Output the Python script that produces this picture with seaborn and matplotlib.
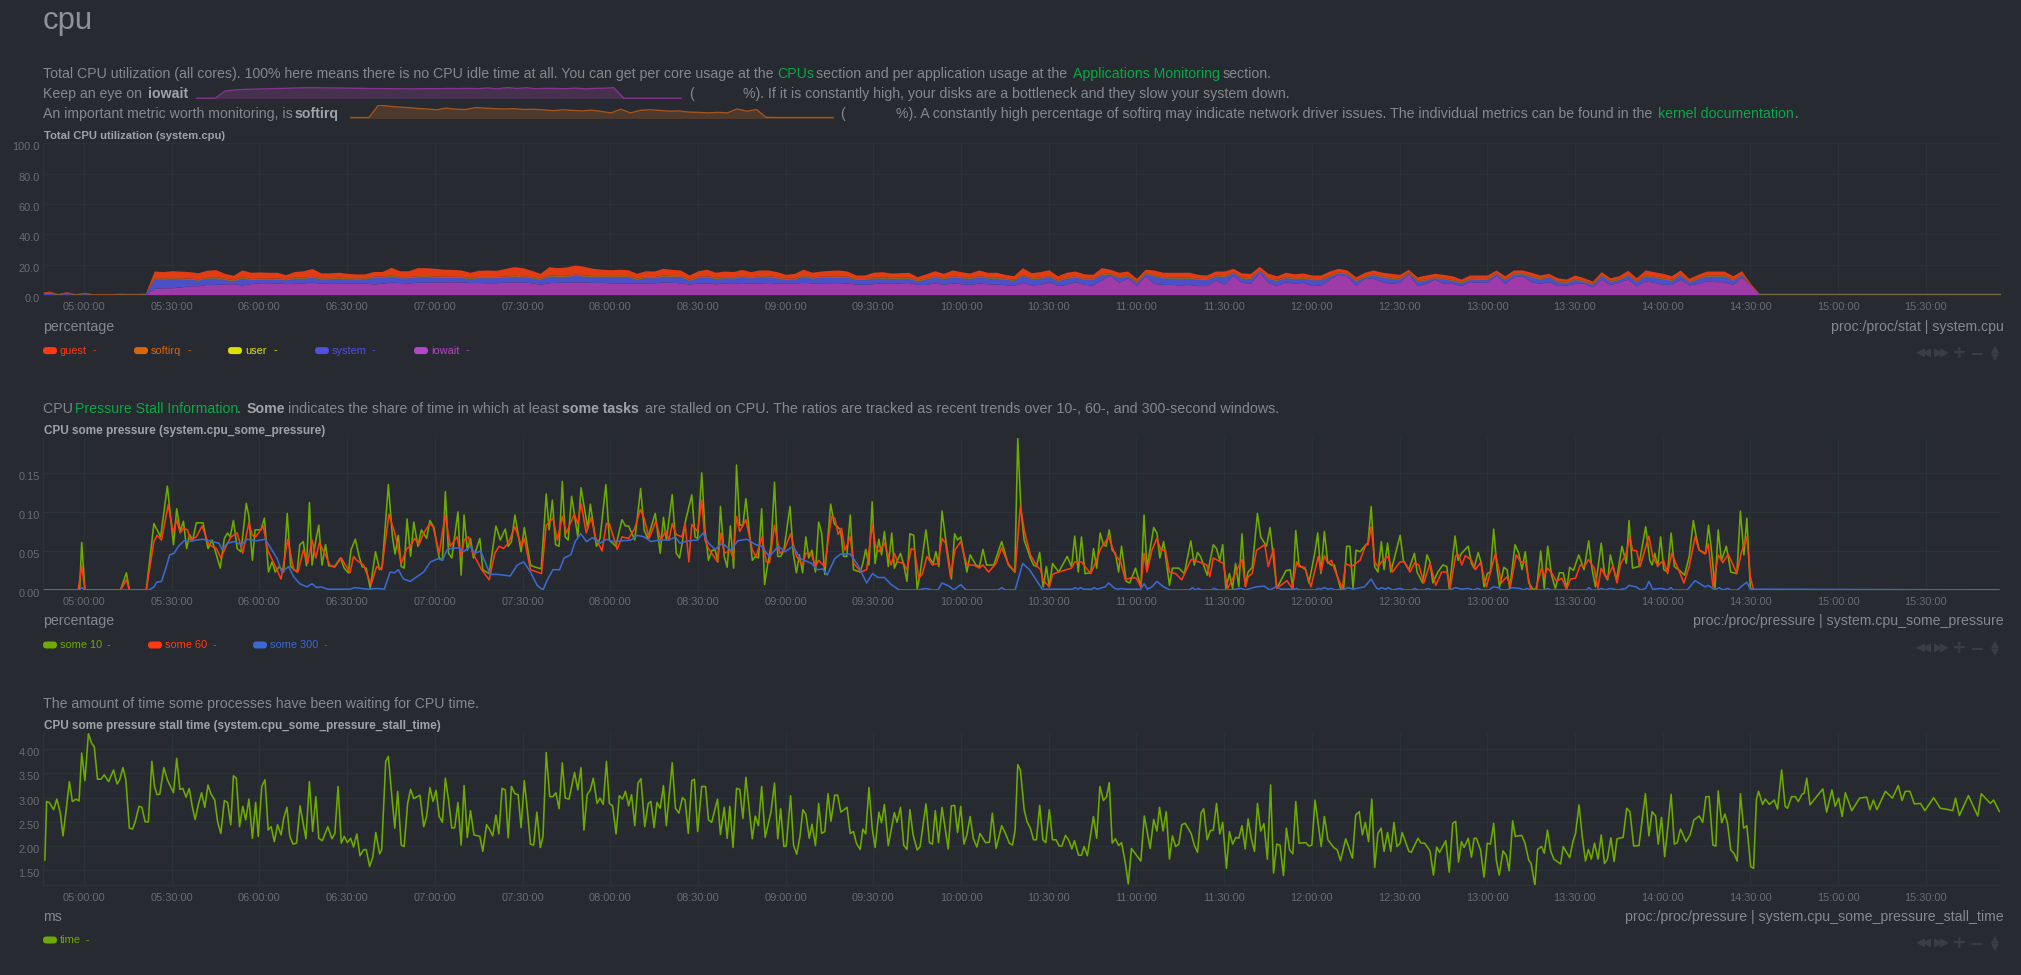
import numpy as np
import pandas as pd
import seaborn as sns
import matplotlib
matplotlib.use("Agg")
import matplotlib.pyplot as plt
from matplotlib.patches import FancyBboxPatch
from matplotlib.transforms import IdentityTransform, ScaledTranslation

# ---------- data: minutes after 05:00 ----------
tick_minutes = list(range(0, 631, 30))
tick_labels = ["05:00:00","05:30:00","06:00:00","06:30:00","07:00:00","07:30:00","08:00:00","08:30:00",
               "09:00:00","09:30:00","10:00:00","10:30:00","11:00:00","11:30:00","12:00:00","12:30:00",
               "13:00:00","13:30:00","14:00:00","14:30:00","15:00:00","15:30:00"]

cpu_minutes = list(range(-15, 658, 3))
cpu_total = [1.6,2.6,1.0,2.2,0.9,1.8,0.9,0.9,0.9,1.2,1.1,1.1,1.2,
 15.8,15.4,16.0,15.8,15.4,14.7,16.3,16.8,14.3,13.0,
 16.5,15.0,15.2,15.0,15.0,13.4,15.5,16.0,17.5,14.6,
 14.6,15.0,14.3,13.9,13.9,15.5,15.5,18.2,16.0,16.0,
 18.0,18.0,17.6,17.0,16.9,16.5,15.0,16.3,16.5,16.3,
 17.5,18.7,18.0,
 16.3,14.3,18.7,18.0,18.5,19.8,18.9,17.6,17.0,16.7,
 17.0,16.7,14.3,16.0,15.8,17.6,16.9,16.5,13.2,16.0,
 17.0,15.0,15.8,15.4,16.9,15.4,16.5,16.5,15.4,13.6,
 14.3,17.0,15.0,15.8,16.3,16.5,15.8,13.2,13.2,15.0,
 15.4,14.5,14.7,15.0,12.1,14.0,16.0,14.3,16.5,15.4,
 14.5,16.5,15.0,15.0,13.6,12.7,
 18.0,14.7,15.4,16.7,12.7,15.0,15.8,14.0,13.6,18.0,
 17.0,15.0,15.8,11.0,17.0,16.5,15.0,15.0,15.0,15.0,
 13.6,13.2,15.8,15.8,17.6,14.5,14.3,18.9,14.3,12.7,
 15.0,14.0,14.5,13.2,13.2,15.8,17.6,16.5,12.0,15.0,
 16.5,15.0,14.3,13.6,17.0,12.0,13.2,14.3,13.6,12.7,
 10.5,13.2,13.2,13.2,16.5,12.7,
 16.5,16.5,15,13.2,14.3,11.4,10.5,13.2,11.4,9.2,15.4,11.4,12.7,16.3,11.4,16.5,15.4,14.3,12.7,16.5,
 11,13.6,15.8,15.8,15.8,12.7,16,7.7] + [1.1]*29
cpu_iowait = [0.3,0.5,0.3,0.8,0.3,0.6,0.3,0.3,0.3,0.3,0.3,0.3,0.3,
 4.4,4.8,4.8,5.3,6.1,6.1,7.0,7.0,7.4,7.4,
 6.6,7.5,8.1,8.1,7.9,7.5,7.7,8.0,8.4,7.8,
 8.1,8.1,7.9,7.9,8.0,7.2,7.8,8.4,8.2,7.9,
 8.4,8.4,8.6,8.6,8.7,8.6,8.2,8.2,8.1,8.1,
 8.4,8.6,8.6,
 8.1,7.0,8.1,8.4,8.4,8.6,8.6,8.2,8.4,8.0,
 8.0,8.0,7.7,8.0,8.0,8.6,8.4,8.0,7.2,7.9,
 8.0,7.4,7.9,7.5,8.2,7.7,7.9,8.2,7.9,7.7,
 7.7,8.4,7.9,8.1,8.1,8.2,7.9,7.2,7.0,7.5,
 7.9,7.6,8.0,8.2,7.0,7.0,8.0,7.0,8.0,7.4,
 7.0,7.8,7.4,7.2,6.8,6.3,
 8.4,6.6,7,8.8,6.2,7,8.8,7,6.6,9.9,
 13.2,8.4,11.4,6.2,12.7,7.7,7,7,6.6,7,
 6.2,6.2,9.9,7,13.2,8.4,7.7,15,8.4,6.2,
 8.8,7.7,8.4,6.2,6.6,10.5,13.6,12.7,6.6,11,
 11,8.8,7.7,8.4,14.3,6.2,7.7,10.5,7.7,7.7,
 6.2,8.8,8.4,8.4,13.2,7.7,
 12.1,12.7,8.8,7.7,8.8,6.2,6.6,7.7,7.7,5.5,10.5,7,8.4,10.5,6.2,9.2,8.4,7,7,10.5,
 6.6,7.7,9.2,8.8,8.8,7,12.1,6.2] + [0.1]*29
cpu_guest = [.3,.8,.3,.4,.2,.4,.2,.2,.2,.2,.2,.2,.2,
 4.4,4.1,4.5,4.5,4.3,4.1,4.5,4.8,3.3,2.9,
 4.5,4.1,4.1,3.9,3.8,2.7,3.7,4.3,5.1,3.3,
 3.2,3.3,2.8,2.6,2.5,3.1,3.1,4.9,3.9,3.9,
 5.3,5.1,5.1,4.7,4.6,4.3,3.4,4.1,4.4,4.1,
 5.1,5.7,5.3,
 4.2,3.2,5.5,5.1,5.5,6,5.7,4.8,4.1,3.9,
 4.1,3.9,3.2,3.8,3.7,4.5,4.1,3.7,2.8,3.7,
 4.3,3.4,3.7,3.4,4.1,3.4,3.7,3.9,3.4,2.7,
 3,3.9,3.1,3.4,3.7,3.9,3.4,2.3,2.3,3.2,
 3.5,2.9,3,3.2,2.1,2.7,3.5,2.8,3.9,3.3,
 2.9,3.7,3.1,3.1,2.6,2.3,
 4.4,3.2,3.6,3.8,2.6,3.2,3.3,2.8,2.6,3.8,
 2.6,3,2.6,2,2.2,3.3,3,3,3.2,3.2,
 2.6,2.4,2.6,3,2.2,2.8,2.8,2.2,2.8,2.4,
 2.8,2.7,2.8,2.4,2.4,2.8,2.4,2,2,2.4,
 2.6,2.6,2.6,2.4,1.5,2.2,2.6,2.2,2.4,2.4,
 1.7,2.2,2.3,2.3,1.6,2.2,
 2,1.8,2.4,2,1.6,2,1.6,2.2,1.9,1.4,1.8,1.6,1.9,2.6,1.9,3.2,3,2.8,2.4,2.6,1.8,2.2,2.6,2.6,2.6,2.2,2,.8] + [0.0]*29
cpu_user = [0.2]*13 + [0.3]*183 + [0.3]*29
cpu_softirq = [0.2]*13 + [0.4]*183 + [0.2]*29

some10 = [(-14,0),(-1.5,0),(-.8,.061),(.3,0),(12.5,0),(14.5,.022),(15.5,0),(21.3,0),(23.9,.085),(26.2,.068),(28.5,.133),(30.6,.058),(31.7,.104),(32.9,.075),(34,.088),(35.1,.053),(36.1,.071),(37.2,.064),(38.4,.086),(40.7,.086),(42.4,.053),(43.8,.064),(46.6,.028),(48,.066),(49.1,.073),(50,.068),(51.1,.089),(52.4,.053),(53.7,.049),(55.5,.111),(56.4,.094),(57.6,.038),(58.5,.077),(60.5,.077),(61.7,.092),(63.1,.023),(64.3,.036),(65.4,.023),(66.8,.030),(68.3,.023),(69.5,.098),(70.7,.030),(72.9,.023),(73.8,.058),(75,.062),(76.1,.031),(77.1,.112),(78,.032),(79.3,.064),(80.3,.083),(81.4,.032),(82.6,.058),(83.7,.031),(85.7,.030),(87.7,.041),(89,.028),(90.4,.022),(91.3,.051),(92.8,.065),(94.1,.043),(95.1,.030),(96.5,.028),(97.9,.002),(99.7,.049),(101.1,.026),(102,.030),(104.1,.135),(105.5,.068),(106.4,.046),(107.5,.070),(108.5,.030),(109.5,.028),(110.5,.091),(111.7,.043),(112.8,.087),(114.2,.056),(115.4,.077),(117.2,.066),(118.3,.089),(119.7,.080),(121.5,.041),(122.6,.038),(123.6,.126),(124.7,.047),(125.8,.041),(127.9,.100),(129,.019),(130,.096),(131.1,.051),(132.2,.066),(133.2,.041),(135.4,.066),(136.4,.026),(138.6,.021),(140.9,.082),(142.4,.064),(144.1,.078),(145.1,.056),(146.2,.062),(147.4,.096),(149.5,.049),(150.6,.080),(152.7,.032),(153.8,.030),(156.4,.027),(158.1,.123),(159.1,.077),(160.2,.115),(161.3,.058),(162.5,.056),(163.6,.139),(164.6,.068),(165.6,.064),(166.8,.120),(168.9,.068),(170,.131),(172.3,.079),(173.2,.110),(175.3,.056),(176.5,.066),(178.5,.135),(179.7,.064),(181.9,.056),(184,.090),(185.2,.082),(186.3,.082),(188.4,.064),(190.4,.130),(191.6,.077),(192.8,.066),(195.4,.098),(197.1,.047),(198.2,.093),(199.2,.064),(201.2,.122),(202.6,.047),(203.7,.041),(204.7,.062),(205.6,.086),(207.9,.122),(209,.068),(209.9,.066),
 (211.3,.150),(212.4,.077),(213.6,.038),(214.8,.051),(215.9,.051),(216.8,.036),(217.7,.107),(219,.043),(220,.029),(221.1,.082),(222.2,.028),(223.2,.160),(224.3,.083),(225.4,.083),(226.4,.117),(228.6,.038),(229.6,.043),(230.7,.041),(231.8,.104),(232.8,.007),(233.9,.034),(235,.056),(236.2,.138),(237.3,.043),(238.3,.043),(239.4,.051),(241.5,.107),(242.6,.047),(243.7,.022),(244.7,.045),(245.8,.022),(246.9,.068),(247.9,.041),(249,.051),(250.2,.023),(251.3,.087),(252.3,.073),(253.4,.020),(255.4,.110),(256.6,.085),(258.8,.077),(259.8,.043),(260.9,.043),(262.1,.096),(263.2,.026),(265.5,.023),(266.4,.034),(267.4,.052),(268.5,.032),(269.6,.113),(270.6,.034),(271.9,.065),(272.8,.045),(273.8,.075),(275.1,.030),(276.3,.073),(277.2,.028),(278.3,.038),(279.3,.047),(280.4,.032),(281.5,.011),(282.5,.072),(283.8,.070),(285,.001),(286,.021),(288,.077),(289.2,.041),(290.5,.034),(291.4,.049),(292.4,.030),(293.5,.101),(294.7,.066),(296.7,.014),(297.8,.072),(298.8,.064),(299.9,.068),(302,.023),(303.1,.045),(305.1,.032),(306.3,.030),(307.5,.052),(308.7,.032),(311.2,.032),(313.9,.062),(316.2,.032),(318.4,.023),(319.4,.194),(320.5,.102),(321.6,.064),(323.7,.041),(324.8,.032),(325.8,.030),(326.9,.048),(328.1,.004),(329.2,.030),(330.2,.004),(331.3,.034),(333.4,.023),(336.3,.043),(337.8,.030),(338.9,.069),(340.1,.023),(341.2,.068),(342.4,.021),(344.4,.022),(345.3,.053),(346.4,.028),(347.6,.073),(348.7,.058),(349.6,.056),(350.7,.077),(351.7,.051),(352.8,.047),(353.9,.023),(354.9,.056),(356.5,.011),(357.7,.009),(359.7,.028),(361.5,.004),(362.6,.096),(363.6,.028),(365.9,.080),(367,.073),(368,.041),(369.3,.062),(371.3,.006),(372.3,.028),(374.5,.028),(376.4,.021),(378.6,.063),(379.8,.032),(380.9,.048),(381.9,.043),(384.2,.019),(386.3,.058),(387.4,.053),(388.5,.038),(389.5,.058),(390.6,.002),(391.8,.021),(392.9,.002),(393.9,.034),(395,.004),(396.1,.072),(397.2,.006),(398.2,.023),(399.6,.029),(401.4,.098),(402.5,.068),(404.5,.056),(405.7,.080),(408,.002),(411.2,.025),(412.6,.026),(413.5,.002),(414.5,.076),(415.6,.032),(417.9,.026),(419,.009),(421,.047),(422,.073),(423.1,.021),(424.3,.075),(425.4,.036),(426.6,.032),(427.7,.032),(429.8,.002),(430.9,.002),(431.9,.056),(433,.056),(434.1,.002),(435.1,.051),(436.5,.049),(438.5,.058),(439.2,.060),(440.3,.107),(441.5,.030),(442.6,.023),(443.8,.062),(444.7,.026),(445.9,.060),(447,.023),
 (450.2,.070),(451.3,.038),(453.2,.026),(455.1,.047),(456,.023),(457.9,.009),(459.4,.045),(460.4,.036),(461.4,.009),(463.1,.023),(464.8,.032),(466.2,.030),(467,.002),(469,.069),(470,.038),(471.2,.047),(473.5,.056),(474.6,.034),(475.5,.028),(476.9,.048),(478,.034),(478.9,.004),(480,.021),(481.1,.023),(482.2,.078),(483.4,.026),(484.2,.004),(485.7,.029),(486.8,.026),(487.7,.002),(489.5,.058),(490.8,.047),(491.9,.026),(493,.049),(494.2,.009),(495.6,.001),(496.9,.001),(498.3,.050),(499.5,.002),(500.7,.056),(502,.019),(503.3,.002),(504.7,.022),(506,.022),(507.2,.002),(508.2,.029),(509.5,.025),(511.3,.045),(513.1,.026),(514.7,.063),(515.8,.028),(517,.004),(519,.060),(520.1,.021),(521.2,.013),(522.1,.045),(524.2,.013),(526.1,.056),(527.6,.034),(528.5,.089),(529.7,.028),(531.8,.030),(534.2,.081),(535.6,.038),(536.4,.032),(537.3,.047),(538.3,.030),(539.3,.068),(540.4,.026),(541.7,.023),(542.9,.073),(544,.030),(546.4,.023),(547.5,.019),(549.1,.043),(550.5,.089),(551.5,.068),(552.5,.051),(554.7,.047),(555.7,.083),(556.8,.047),(557.9,.002),(559,.077),(560.1,.038),(561.8,.056),(563.3,.023),(565.4,.021),(566.6,.101),(567.8,.045),(568.8,.092),(570,.002),(570.8,0),(655,0)]

some60 = [(-14,0),(-2,0),(-.8,.031),(.3,0),(12.5,0),(14.5,.013),(15.5,0),(21.3,0),(23.9,.062),(25,.070),(26.5,.064),(28.8,.109),(30.5,.073),(31.7,.090),(32.9,.073),(34,.079),(35.4,.077),(36.4,.064),(38.4,.068),(40.4,.082),(42.7,.058),(45.3,.053),(46.8,.041),(49.1,.060),(50.3,.068),(52.4,.073),(54.3,.047),(56.4,.086),(57.6,.070),(58.7,.068),(59.7,.073),(61.3,.082),(62.8,.051),(65.5,.030),(67.4,.014),(69.7,.065),(71.7,.026),(73.2,.023),(75,.051),(76.5,.034),(78,.064),(79.3,.041),(80.5,.061),(82.3,.047),(84.1,.032),(85.7,.029),(88,.041),(91,.022),(92.2,.043),(93.3,.038),(95.6,.032),(98.2,.007),(100.1,.030),(101.8,.026),(104.3,.097),(106.3,.073),(107.3,.056),(108.5,.034),(110.4,.053),(111.6,.056),(113.1,.066),(114.6,.058),(116.2,.073),(118.3,.085),(119.4,.081),(121.5,.047),(123.5,.096),(125.3,.056),(127.6,.068),(129,.043),(130,.064),(131.5,.068),(133,.047),(136,.026),(138.6,.013),(140.5,.047),(142,.056),(143.5,.053),(145.1,.060),(147.4,.081),(149.7,.056),(150.6,.066),(152.7,.026),(156.5,.021),(158.1,.083),(160.4,.092),(161.9,.064),(163.6,.094),(165,.073),(167.7,.097),(168.9,.085),(170,.111),(171.8,.073),(173.5,.093),(174.9,.068),(177.2,.050),(178.7,.085),(179.7,.085),(182.4,.052),(184,.068),(186.3,.066),(188.4,.079),(190.3,.103),(191.6,.092),(193.3,.066),(195.6,.088),(197.3,.064),(199,.075),(200.1,.064),(201.2,.085),(202.6,.071),(204.5,.068),(205.6,.085),(206.9,.036),(207.9,.084),(209.9,.075),
 (211.3,.115),(212.4,.064),(213.6,.053),(216.7,.036),(217.9,.073),(219,.047),(221.1,.051),(222,.041),(223.2,.094),(224.3,.075),(226.4,.090),(228.6,.051),(229.9,.043),(231.9,.068),(233.4,.036),(234.5,.035),(236.2,.083),(238,.047),(239.5,.051),(241.7,.072),(243.7,.043),(245.8,.032),(246.9,.047),(248.7,.047),(250.2,.030),(251.3,.038),(253.3,.030),(255.7,.094),(256.8,.092),(258,.071),(259.1,.079),(260.3,.051),(262.1,.068),(263.3,.034),(265.8,.023),(267.7,.026),(269.6,.083),(270.8,.056),(271.9,.049),(273.8,.060),(276.1,.032),(277.2,.047),(278.3,.036),(280.4,.034),(281.5,.026),(283,.053),(284.1,.051),(285.6,.015),(286.8,.021),(288.3,.043),(290.2,.032),(292.1,.034),(293.5,.066),(294.7,.060),(296.4,.017),(297.9,.051),(299.9,.062),(302,.032),(304.3,.032),(306.3,.028),(307.5,.032),(309.4,.023),(312,.034),(313.9,.054),(316.1,.034),(318.5,.023),(320.3,.108),(321.6,.077),(323.7,.045),(326.1,.030),(327.2,.026),(328,.013),(330.2,.004),(331.3,.020),(333.4,.023),(337.8,.028),(338.9,.036),(341.2,.036),(342.4,.030),(344.4,.021),(346.3,.038),(347.8,.053),(350.5,.068),(352.7,.045),(354.6,.036),(356.2,.013),(358.4,.016),(360,.015),(361.5,.004),(362.6,.047),(363.6,.023),(365.3,.051),(367,.066),(368.4,.051),(369.9,.051),(371.3,.023),(373.4,.021),(375.5,.013),(378.7,.039),(379.8,.038),(382.1,.035),(384.1,.032),(385.1,.017),(386.3,.041),(389.7,.034),(391.2,.002),(392.7,.013),(396.1,.039),(397.3,.004),(398.2,.017),(399.6,.021),(401.1,.051),(403.9,.058),(405.1,.030),(406.9,.053),(408,.002),(411.5,.012),(413.3,.002),(414.8,.036),(415.6,.030),(417.6,.029),(419.7,.004),(422.2,.043),(423.2,.023),(424.3,.044),(425.5,.034),(426.7,.038),(427.8,.026),(430.4,.002),(431.6,.034),(433.5,.030),(436.5,.038),(438.5,.058),(439.2,.058),(440.3,.081),(441.5,.036),(442.6,.030),(444.3,.038),(446.1,.043),(447.6,.023),
 (450.2,.036),(451.6,.036),(453.6,.023),(455.2,.035),(456.6,.032),(458.3,.009),(460.4,.034),(462.4,.006),(464.4,.023),(466.2,.023),(467.3,.002),(469.2,.044),(470.2,.045),(471.3,.032),(472.5,.044),(474.6,.038),(475.9,.026),(477.7,.035),(479.7,.004),(481.1,.023),(482.8,.047),(484.9,.009),(485.7,.013),(486.8,.017),(487.9,.004),(489.9,.045),(491.5,.036),(493,.036),(494.9,0),(496.5,0),(498.6,.028),(499.5,.017),(500.6,.028),(502.2,.021),(503.7,.011),(505.5,.015),(507.1,.001),(508.5,.014),(510.2,.015),(511.8,.032),(513.2,.030),(514.6,.039),(516.6,.028),(517.8,.002),(519,.028),(520.9,.014),(523,.031),(524.4,.009),(525.7,.034),(527.4,.045),(528.8,.068),(529.7,.051),(531.1,.050),(532.3,.030),(535.3,.069),(536.6,.043),(538.3,.031),(540.3,.038),(541.7,.021),(543.1,.047),(545,.030),(547.3,.009),(549.1,.030),(551.1,.068),(552.5,.051),(554.5,.046),(555.6,.059),(557.2,.004),(559,.045),(560.6,.035),(562.4,.046),(565.4,.021),(567,.049),(568.8,.068),(570,.017),(571.1,0),(655,0)]

some300 = [(-14,0),(-1.5,0),(-.8,.003),(.3,0),(22.3,0),(23.9,.004),(24.9,.010),(26.5,.011),(28,.028),(29.3,.045),(30.8,.047),(32.3,.056),(34.2,.063),(36.2,.062),(38.4,.064),(40.7,.065),(43.8,.062),(46.1,.060),(47.2,.052),(49.1,.060),(51.4,.062),(53.7,.058),(55.9,.065),(59,.063),(62,.065),(64.3,.051),(66.1,.040),(67.6,.023),(70,.030),(71.7,.017),(73.8,.008),(76.2,.004),(78,.008),(79.6,.003),(81.1,.004),(83.4,.001),(91,.001),(92.5,.003),(97.2,.001),(100.1,.002),(102.7,.001),(104.7,.023),(106.3,.022),(107.5,.026),(109.3,.014),(111.6,.011),(113.1,.015),(116.2,.023),(118.5,.036),(121.1,.040),(122.6,.038),(124.1,.051),(125.3,.053),(128.4,.054),(129.9,.049),(132.2,.056),(133.7,.047),(135.7,.050),(137.8,.030),(139,.020),(141.3,.020),(145.8,.018),(148.2,.032),(150.4,.036),(152.7,.023),(155,.006),(157,0),(158.5,.013),(160.4,.026),(162.7,.026),(164.2,.041),(166.5,.045),(168,.062),(169.9,.072),(171.9,.062),(173.9,.067),(176.5,.060),(178.7,.065),(181,.062),(184,.063),(187.1,.064),(189.3,.070),(191.6,.068),(193.9,.062),(197,.064),(200.1,.064),(202.3,.068),(203.8,.060),(206.9,.063),(209.9,.064),
 (210.6,.068),(211.8,.073),(213.6,.060),(215.9,.052),(218.3,.060),(221.3,.051),(223.6,.063),(226.7,.065),(229.8,.058),(231.8,.056),(234.4,.043),(237.5,.056),(239.8,.049),(242.5,.056),(245.1,.040),(248.9,.034),(250.8,.026),(252.7,.027),(254.2,.019),(256.8,.040),(258.8,.046),(262.1,.046),(264.7,.032),(267.7,.009),(269.7,.021),(271.6,.016),(273.8,.016),(276.1,.007),(278.9,0),(285.3,0),(288,.002),(289.9,0),(292.1,0),(293.5,.009),(295.9,.005),(297.5,0),(299.9,.007),(301.7,0),(312.7,0),(313.9,.003),(315.1,0),(318.5,0),(321.1,.034),(323.4,.026),(327.8,.001),(338.2,.001),(339,.003),(340,.001),(340.9,.003),(341.9,.001),(344.7,.001),(345.5,.003),(346.5,.001),(349.3,.004),(350.5,.009),(352.6,.002),(353.8,.001),(355,.002),(356,.001),(361.5,.001),(362.6,.008),(363.8,.001),(365.3,.004),(367,.011),(369.3,.004),(371.5,0),(378.1,0),(379.2,.003),(380.2,0),(381.2,.002),(382.2,0),(385.7,0),(386.5,.002),(388,0),(391.8,0),(395.9,.002),(397.2,0),(401,.004),(403.7,.005),(405.6,0),(407.8,.004),(409.4,.001),(414,.001),(414.8,.002),(415.6,0),(421.2,0),(422.2,.002),(423.1,.001),(424.3,.003),(425.5,.001),(426.7,.002),(427.7,0),(431.2,.001),(432.3,.003),(434.1,.001),(438,.004),(440.3,.014),(442.2,.002),(443,.001),(443.8,.003),(445.3,.001),(446.1,.003),(447.6,0),
 (450.2,.002),(451.6,0),(454.3,0),(455.2,.002),(456.3,0),(458.6,0),(459.6,.002),(461,0),(467.1,0),(469.2,.003),(471.2,.001),(473.5,.002),(475.3,0),(476.6,.002),(478,0),(480.7,0),(482,.004),(483.8,.003),(484.8,0),(486.8,0),(488.4,.003),(491.1,.002),(492.5,0),(493.5,.002),(494.9,0),(499.6,0),(500.6,.002),(501.7,0),(513.9,0),(514.7,.003),(515.8,0),(517.9,0),(519,.002),(520.4,0),(522,.002),(524.7,0),(527.4,.002),(528.5,.006),(530.9,.004),(532.4,0),(534.2,.002),(535.3,.011),(536.6,.001),(539.6,.002),(541.7,0),(542.8,.003),(543.7,0),(548.4,0),(551.1,.012),(554.5,.004),(555.6,.006),(557.9,0),(559.3,.003),(560.6,0),(562.3,.002),(563.3,0),(565.6,0),(567.4,.006),(568.8,.010),(570,.001),(655,0)]

stall_time = [(-13.4,1.71),(-12.8,2.92),(-11.9,2.90),(-10.4,2.75),(-9.3,2.97),(-8.1,2.68),(-7.2,2.21),(-6.1,2.75),(-5,3.33),(-4,2.92),(-2.7,2.97),(-1.7,2.93),(-.8,3.92),(.3,3.35),(1.5,4.32),(2.6,4.12),(3.5,4.05),(4.6,3.38),(5.8,3.38),(6.9,3.47),(8.4,3.33),(10.1,3.57),(11.3,3.28),(12.2,3.37),(13.3,3.62),(14.3,3.37),(15.5,2.37),(16.6,2.35),(17.5,2.50),(18.8,2.82),(19.8,2.80),(20.9,2.50),(22,2.50),(23.2,3.75),(24.1,3.23),(25,3.06),(25.9,3.07),(27.3,3.62),(28.5,3.37),(29.6,3.23),(30.6,3.10),(31.7,3.81),(32.8,3.17),(33.8,3.19),(34.9,3.01),(36,3.19),(37,2.82),(38,2.55),(39.2,2.88),(40.2,3.10),(41.3,2.80),(42.4,3.26),(43.4,3.08),(44.7,2.95),(45.7,2.50),(46.8,2.26),(48,2.94),(49.1,2.90),(50.2,2.44),(51.1,3.45),(52.1,3.40),(53.2,2.40),(54.3,2.82),(55.3,2.54),(56.4,2.97),(57.6,2.16),(58.7,2.90),(59.6,2.20),(60.8,3.23),(61.9,3.37),(63,2.33),(64,2.40),(65.1,2.09),(66.2,2.44),(67.4,2.23),(68.3,2.57),(69.4,2.80),(70.4,2.20),(71.5,2.04),(72.7,2.06),(73.9,2.83),(75.9,2.15),(77.1,3.33),(78.2,2.30),(79.3,3.02),(80.3,2.16),(81.5,2.11),(83.4,2.40),(84.8,2.15),(85.8,2.26),(86.9,3.23),(88,2.06),(89,2.20),(90.1,2.07),(91.2,2.16),(92.2,1.98),(93.3,2.25),(94.4,1.80),(95.6,1.92),(96.5,1.93),(97.7,1.58),(98.8,1.78),(99.8,2.28),(101.1,1.84),(101.8,1.92),(103.2,3.75),(104.1,3.85),(105.2,3.09),(106.3,2.37),(107.3,3.13),(108.5,2.02),(109.5,1.99),(110.7,2.88),(111.7,3.17),(112.8,2.98),(114.9,3.05),(116.2,2.40),(117.2,2.61),(118.3,3.21),(119.4,2.92),(120.4,3.15),(121.5,2.61),(122.6,2.49),(123.6,3.40),(124.7,2.95),(125.8,2.37),(126.8,2.38),(127.9,2.90),(129,2.02),(130,3.25),(131.1,2.18),(132.2,2.73),(133.4,2.23),(135.4,2.20),(136.4,1.89),(137.7,2.44),(138.7,2.35),(139.8,2.21),(140.9,2.64),(141.9,2.25),(143,3.19),(144.1,3.16),(145.1,2.17),(146.2,3.23),(147.4,3.08),(148.5,3.06),(149.5,2.38),(150.6,3.35),(151.7,2.71),(152.7,2.04),(153.8,2.02),(154.9,2.70),(156.1,1.97),(157,2.20),(158.1,3.93),(159.3,3.02),(160.4,3.02),(161.4,3.10),(162.5,2.77),(163.6,3.72),(164.6,2.99),(165.9,2.97),(167.8,3.52),(168.9,3.16),(170,3.62),(171,2.33),(172.1,3.06),(173.2,3.16),(174.2,3.40),(175.5,2.88),(176.5,2.99),(177.6,2.86),(178.7,3.75),(179.7,2.88),(180.8,2.83),(182,2.25),(183.1,3.04),(184.2,2.97),(185.2,3.13),(186.3,2.83),(187.3,3.06),(188.4,2.42),(189.5,3.30),(190.5,3.39),(191.8,2.40),(193,2.88),(193.9,2.92),(195,2.38),(196,2.90),(197.1,2.78),(198.2,3.25),(199.2,2.42),(201.2,3.72),(202.3,2.78),(203.5,2.68),(204.7,3.00),(205.6,2.95),(206.7,2.26),(207.9,3.35),(208.8,3.38),(209.9,2.30),
 (211.3,3.23),(212.6,3.23),(213.6,2.54),(214.7,2.49),(216.7,2.97),(217.7,2.24),(219,2.80),(220,2.16),(220.9,2.82),(222,1.97),(223.2,3.19),(224.3,3.17),(225.4,2.57),(226.4,3.42),(227.5,2.78),(228.6,2.15),(229.6,2.62),(230.7,2.42),(231.8,3.23),(233,2.18),(235,2.71),(236.2,3.30),(237.3,2.15),(238.3,2.77),(239.4,1.99),(240.2,2.00),(241.7,3.04),(242.7,2.02),(243.8,1.83),(244.9,2.20),(245.9,2.75),(246.9,2.66),(248.1,2.16),(249,2.45),(250.2,2.01),(251.3,2.88),(252.3,2.26),(253.4,2.30),(254.5,3.08),(255.5,2.51),(256.8,3.05),(257.8,3.05),(258.9,2.70),(261,2.80),(262.1,2.26),(263.2,2.30),(264.2,2.06),(265.5,1.93),(266.4,2.35),(267.4,2.25),(268.5,3.21),(269.6,2.37),(270.6,1.97),(271.9,2.70),(272.8,2.48),(273.8,2.86),(275.1,2.01),(277.2,2.69),(278.1,2.49),(279.3,2.80),(280.4,2.02),(281.5,1.93),(282.5,2.75),(283.6,2.23),(285,1.92),(286,1.99),(288,2.87),(289.2,2.07),(290.2,2.04),(291.2,2.73),(292.3,2.07),(293.5,2.80),(295.6,1.94),(296.7,2.83),(297.8,2.84),(298.8,2.28),(299.9,2.82),(301,2.04),(302,2.23),(303.1,2.61),(304.2,2.16),(305.4,1.98),(306.5,2.26),(308.4,2.07),(309.7,2.08),(310.7,2.68),(312,1.95),(313.9,2.42),(315.2,2.26),(316.5,2.06),(317.6,2.02),(318.5,2.33),(319.4,3.68),(320.3,3.57),(321.6,2.75),(322.6,2.50),(323.7,2.37),(324.8,2.13),(325.8,2.13),(326.9,2.84),(328,2.13),(329,2.07),(330.2,2.75),(331.3,2.13),(332.5,2.13),(333.6,2.00),(334.5,2.00),(335.7,2.22),(336.8,2.13),(337.9,1.94),(338.8,2.11),(340.2,1.81),(341.2,1.81),(342.1,1.99),(343.2,1.80),(345.3,2.61),(346.4,2.16),(347.5,3.23),(348.7,2.94),(349.8,3.02),(350.7,3.31),(351.7,2.06),(352.8,2.15),(353.9,2.01),(354.9,2.07),(356.2,1.65),(357.2,1.22),(358.3,1.95),(361.5,1.69),(362.7,2.62),(364.7,1.95),(365.9,2.55),(367,2.31),(367.9,2.80),(369.1,2.31),(370.2,2.71),(371.3,1.73),(372.3,2.21),(373.4,1.99),(374.5,2.04),(375.5,2.44),(376.7,2.47),(378.7,2.26),(379.8,2.02),(380.9,1.87),(382.1,2.68),(383,2.77),(384.2,2.13),(385.3,2.32),(386.3,2.33),(387.4,2.88),(388.5,2.25),(389.5,2.49),(390.8,1.54),(391.8,2.30),(392.9,2.04),(394,2.18),(395,2.16),(396.1,2.42),(397.2,1.94),(398.2,2.56),(399.3,2.15),(400.4,1.89),(401.4,2.88),(402.5,2.31),(403.6,2.46),(404.8,1.73),(405.9,3.26),(406.9,1.44),(408,2.04),(409.1,2.02),(410.3,1.39),(411.3,2.37),(412.4,1.92),(413.5,1.84),(414.5,2.92),(415.6,2.06),(417.9,2.07),(419,2.00),(420,2.02),(421.1,2.95),(423.2,1.99),(424.3,2.61),(425.5,2.13),(427.5,1.97),(428.7,1.92),(429.8,1.70),(431.6,2.15),(433.9,1.75),(435,2.64),(436.2,2.71),(437.3,2.23),(438.3,2.49),(439.4,2.09),(440.5,2.97),(441.5,1.56),(442.6,2.26),(443.7,2.37),(444.7,1.89),(445.9,2.28),(447,1.89),(448.1,2.49),(449.1,1.99),
 (450.2,2.06),(450.9,2.28),(453.2,1.89),(454,1.87),(456.3,2.16),(457.4,2.06),(458.6,2.06),(460.4,1.90),(461.6,1.40),(462.7,1.98),(463.7,1.87),(465.8,2.11),(467,1.46),(468.2,2.47),(469.2,2.51),(470.2,1.67),(471.2,2.09),(472.1,1.97),(473.5,2.16),(474.6,1.77),(475.5,2.16),(476.3,2.16),(477.7,1.92),(478.9,1.36),(480,2.06),(481.1,2.04),(482.2,2.47),(483.1,1.71),(484.1,1.40),(485.4,1.90),(486.5,1.81),(487.5,1.49),(488.7,2.52),(489.6,2.20),(491.8,2.22),(492.9,2.06),(494.2,1.71),(495,1.64),(496.3,1.19),(497.2,1.93),(498.6,1.99),(499.5,1.85),(500.6,2.33),(501.7,1.90),(502.8,1.73),(505.1,1.63),(506,1.99),(508.2,1.76),(509.3,2.09),(510.2,2.26),(511.4,2.85),(512.5,2.20),(513.6,1.69),(514.6,1.93),(515.6,1.73),(516.7,2.06),(517.9,1.73),(519,2.23),(520.1,1.64),(521.1,1.73),(522.3,2.17),(523.4,1.68),(524.4,2.15),(526.5,2.18),(527.7,2.78),(528.8,2.71),(530.1,2.00),(531.9,2.01),(534.1,3.08),(535.3,2.21),(536.4,2.71),(537.6,2.62),(538.5,2.04),(539.6,2.59),(540.7,1.78),(541.9,2.47),(542.9,3.07),(544,2.04),(545,2.07),(546.1,2.35),(548,2.09),(549.4,2.23),(550.7,2.54),(552.5,2.62),(553.7,2.49),(554.8,3.02),(555.9,3.02),(557.2,2.02),(558.2,2.00),(559,3.14),(560.2,2.48),(561.3,2.66),(562.2,2.47),(563.3,1.92),(564.4,1.85),(565.5,1.69),(566.6,3.08),(567.7,2.37),(568.8,2.42),(570.1,1.58),(571.1,1.54),(572.1,2.97),(572.8,3.13),(574.2,2.86),(575.1,2.97),(576.5,2.86),(578.2,2.95),(579.3,2.76),(580.7,3.57),(581.9,2.82),(582.7,2.78),(584.1,3.02),(585.4,3.02),(586.4,2.92),(587.7,3.07),(588.4,3.09),(589.3,3.40),(590.4,2.85),(594.8,3.18),(596.1,2.70),(597.9,3.16),(599,2.82),(600.2,2.99),(601.4,2.61),(602.5,3.10),(604.7,2.73),(607.4,2.99),(609.8,3.01),(610.9,2.75),(612.1,2.95),(613.3,2.75),(616.2,3.13),(618.6,2.99),(620.6,3.25),(621.9,2.94),(623,3.13),(624.6,3.13),(626.1,2.87),(628.2,2.88),(629.7,2.73),(632.7,3.00),(635,2.78),(637.2,2.76),(639.2,2.73),(640.2,2.99),(641.5,2.63),(644.6,3.04),(647.8,2.62),(649,3.08),(652.1,2.88),(653.2,2.95),(655.2,2.71)]

spark_iowait = [.2,.2,.3,5.6,6.4,6.8,7,7.2,7.4,7.6,7.8,8,8.1,8,7.9,7.8,7.7,7.6,7.4,7.4,7.3,7.3,7.2,7.3,7.4,7.3,7.5,7.4,7.6,7.3,
 7.9,7.2,8.2,7.5,8,7.3,7.6,7.5,7.3,7.8,7.2,7.6,7.7,8,.25,.2,.2,.2,.2,.2,.2]
spark_softirq = [.35,.35,.35,4.8,4.4,4.1,3.9,3.6,3.4,3.1,3.7,3.3,3.2,3.9,3.7,3.5,3.4,3.5,3.2,3.3,3.1,2.8,3.1,2.9,2.7,3.0,2.5,2.0,3.3,2.0,
 2.9,3.1,2.9,2.6,2.7,2.3,2.2,2.0,2.2,2.0,3.4,2.6,3.2,.4,.35,.35,.35,.35,.35,.35,.35]

# ---------- styling ----------
W, H = 2021, 975
BG = "#272a30"
GRID = "#2e3238"
GRID_G = "#2b3437"
TXT = "#85898e"
BOLD = "#9fa3a7"
TICK = "#696d72"
LINK = "#0aa845"
ICON = "#3a3e44"
GREEN, RED, BLUE = "#6dab00", "#ff3a12", "#3a69d2"

sns.set_theme(style="dark", rc={"axes.facecolor": BG, "figure.facecolor": BG, "savefig.facecolor": BG})
plt.rcParams["font.family"] = ["Liberation Sans", "DejaVu Sans"]

fig = plt.figure(figsize=(W / 100, H / 100), dpi=100, facecolor=BG)
BODY = 10.14

def put(x, y, s, color=TXT, size=BODY, weight="normal", ha="left"):
    fig.text(x / W, 1 - y / H, s, color=color, fontsize=size, fontweight=weight, ha=ha, va="center")

def swatch(x, y, color):
    fig.add_artist(FancyBboxPatch((x, H - y - 3.5), 14, 7, boxstyle="round,pad=0,rounding_size=3.4",
                                  fc=color, ec="none", transform=IdentityTransform()))

def legend(y, items):
    for sx, tx, dx, name, col in items:
        swatch(sx, y, col)
        put(tx, y, name, color=col, size=7.9)
        put(dx, y, "-", color=col, size=7.9)

def toolbox(y):
    for x, g in [(1920, "\u25c0"), (1926, "\u25c0"), (1938, "\u25b6"), (1944, "\u25b6")]:
        fig.text(x / W, 1 - y / H, g, color=ICON, fontsize=8.5, ha="center", va="center", fontfamily="DejaVu Sans")
    for x, g in [(1958, "+"), (1976, "\u2212")]:
        fig.text(x / W, 1 - y / H, g, color=ICON, fontsize=12.5, fontweight="bold", ha="center", va="center", fontfamily="DejaVu Sans")
    fig.text(1994.5 / W, 1 - (y - 4) / H, "\u25b2", color=ICON, fontsize=7.5, ha="center", va="center", fontfamily="DejaVu Sans")
    fig.text(1994.5 / W, 1 - (y + 4.5) / H, "\u25bc", color=ICON, fontsize=7.5, ha="center", va="center", fontfamily="DejaVu Sans")

def panel(top, bottom, ylim, yticks, ylabels, grid):
    ax = fig.add_axes([43.4 / W, 1 - bottom / H, (2000 - 43.4) / W, (bottom - top) / H])
    ax.set_facecolor(BG)
    ax.set_xlim(-13.9, 655.4)
    ax.set_ylim(*ylim)
    ax.set_xticks(tick_minutes, tick_labels)
    ax.set_yticks(yticks, ylabels)
    ax.tick_params(axis="x", length=0, pad=5.3, labelsize=7.9, labelcolor=TICK)
    ax.tick_params(axis="y", length=0, pad=2.5, labelsize=7.9, labelcolor=TICK)
    ax.grid(True, color=grid, lw=0.7)
    ax.set_axisbelow(True)
    for k in ("top", "right"):
        ax.spines[k].set_visible(False)
    for k in ("left", "bottom"):
        ax.spines[k].set_color(grid)
        ax.spines[k].set_linewidth(0.7)
    off = ScaledTranslation(0, -3 / 100, fig.dpi_scale_trans)
    for lab in ax.get_yticklabels():
        lab.set_transform(lab.get_transform() + off)
    return ax

def draw(ax, pairs, color, lw=1.15):
    df = pd.DataFrame(pairs, columns=["minute", "value"])
    sns.lineplot(data=df, x="minute", y="value", ax=ax, color=color, lw=lw, estimator=None, legend=False)
    ax.set(xlabel="", ylabel="")

# ---------- header + description ----------
put(43, 21, "cpu", size=22.3, color="#8e9196")
put(43, 74, "Total CPU utilization (all cores). 100% here means there is no CPU idle time at all. You can get per core usage at the ")
put(777, 74, "CPUs", color=LINK)
put(816, 74, "section and per application usage at the ")
put(1073, 74, "Applications Monitoring", color=LINK)
put(1223, 74, "section.")
put(43, 94, "Keep an eye on ")
put(148, 94, "iowait", color=BOLD, weight="bold")
put(689, 94, "(")
put(743, 94, "%). If it is constantly high, your disks are a bottleneck and they slow your system down.")
put(43, 114, "An important metric worth monitoring, is ")
put(295, 114, "softirq", color=BOLD, weight="bold")
put(840, 114, "(")
put(896, 114, "%). A constantly high percentage of softirq may indicate network driver issues. The individual metrics can be found in the ")
put(1658, 114, "kernel documentation", color=LINK)
put(1795, 114, ".")

def spark(x0, x1, top, bottom, values, ymax, line, fill):
    ax = fig.add_axes([x0 / W, 1 - bottom / H, (x1 - x0) / W, (bottom - top) / H])
    ax.axis("off")
    xs = np.arange(len(values))
    ax.fill_between(xs, values, color=fill, lw=0)
    sns.lineplot(x=xs, y=values, ax=ax, color=line, lw=1.0, estimator=None, legend=False)
    ax.set_xlim(0, len(values) - 1)
    ax.set_ylim(0, ymax)

spark(196, 682, 87, 98.5, spark_iowait, 8.6, "#82348f", "#46324f")
spark(349.5, 834, 104.5, 118.5, spark_softirq, 5.0, "#a5531c", "#4d3a2c")

# ---------- chart 1 ----------
put(43.5, 136, "Total CPU utilization (system.cpu)", color=BOLD, size=8.13, weight="bold")
ax1 = panel(143.3, 295, (0, 100), [0, 20, 40, 60, 80, 100], ["0.0", "20.0", "40.0", "60.0", "80.0", "100.0"], GRID)
n = min(map(len, [cpu_minutes, cpu_total, cpu_iowait, cpu_guest, cpu_user, cpu_softirq]))
cpu_x = np.array(cpu_minutes[:n], float)
total = np.array(cpu_total[:n])
iow = np.array(cpu_iowait[:n])
gue = np.array(cpu_guest[:n])
usr = np.array(cpu_user[:n])
sof = np.array(cpu_softirq[:n])
cpu_system = np.clip(total - iow - gue - usr - sof, 0, None)
ax1.stackplot(cpu_x, iow, cpu_system, usr, sof, gue,
              colors=["#9e3ba9", "#4b50c6", "#a9a216", "#c96a12", "#e23c14"], lw=0)
ax1.set(xlabel="", ylabel="", xlim=(-13.9, 655.4), ylim=(0, 100))
put(43, 327, "percentage")
put(2004, 327, "proc:/proc/stat | system.cpu", ha="right")
legend(350.6, [(43, 60, 92.5, "guest", "#ff3a12"), (134, 151, 188, "softirq", "#d9660a"),
               (228, 245.5, 274, "user", "#e0e000"), (315, 331.6, 372, "system", "#4f4fe0"),
               (414, 431, 465.5, "iowait", "#b446c8")])
toolbox(352.7)

# ---------- chart 2 ----------
put(43, 409.3, "CPU ")
put(75, 409.3, "Pressure Stall Information", color=LINK)
put(237, 409.3, ".")
put(246.4, 409.3, "Some", color=BOLD, weight="bold")
put(288, 409.3, "indicates the share of time in which at least")
put(562.5, 409.3, "some tasks", color=BOLD, weight="bold")
put(645, 409.3, "are stalled on CPU. The ratios are tracked as recent trends over 10-, 60-, and 300-second windows.", size=10.22)
put(43.5, 431, "CPU some pressure (system.cpu_some_pressure)", color=BOLD, size=8.48, weight="bold")
ax2 = panel(437.7, 590, (0, 0.195), [0, .05, .10, .15], ["0.00", "0.05", "0.10", "0.15"], GRID_G)
draw(ax2, some10, GREEN)
draw(ax2, some60, RED)
draw(ax2, some300, BLUE)
ax2.set(xlim=(-13.9, 655.4), ylim=(0, 0.195))
put(43, 621, "percentage")
put(2004, 621, "proc:/proc/pressure | system.cpu_some_pressure", ha="right")
legend(645, [(43, 60, 107, "some 10", GREEN), (148, 165, 213, "some 60", RED), (253, 270, 324, "some 300", BLUE)])
toolbox(647.7)

# ---------- chart 3 ----------
put(43, 704, "The amount of time some processes have been waiting for CPU time.")
put(43.5, 726, "CPU some pressure stall time (system.cpu_some_pressure_stall_time)", color=BOLD, size=8.48, weight="bold")
ax3 = panel(732.7, 885.3, (1.19, 4.34), [1.5, 2, 2.5, 3, 3.5, 4], ["1.50", "2.00", "2.50", "3.00", "3.50", "4.00"], GRID_G)
draw(ax3, stall_time, GREEN)
ax3.set(xlim=(-13.9, 655.4), ylim=(1.19, 4.34))
put(43, 916.7, "ms")
put(2004, 916.7, "proc:/proc/pressure | system.cpu_some_pressure_stall_time", ha="right")
legend(940, [(43, 60, 86, "time", GREEN)])
toolbox(942.7)

fig.savefig("out.png", dpi=100, facecolor=BG)
